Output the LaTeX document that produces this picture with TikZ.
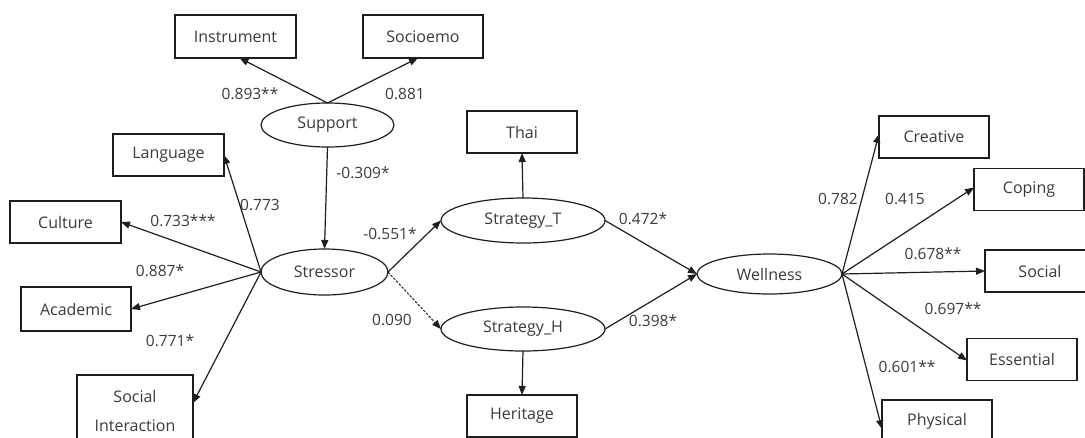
\documentclass[tikz,border=0pt]{standalone}
\usepackage{fontspec}
\setmainfont{Open Sans}
\usetikzlibrary{shapes.geometric,arrows.meta}
\definecolor{txt}{HTML}{3A3A3A}
\definecolor{ln}{HTML}{1E1E1E}
\begin{document}
\begin{tikzpicture}[x=1pt,y=-1pt,
  every node/.style={font=\fontsize{16}{29}\selectfont,text=txt},
  obs/.style={draw=ln,line width=1.2pt,rectangle,inner sep=0pt,outer sep=0pt,minimum width=110pt,minimum height=42pt,align=center},
  lat/.style={draw=ln,line width=1.2pt,ellipse,inner sep=0pt,outer sep=0pt,minimum height=44pt},
  path/.style={draw=ln,line width=1.2pt,-{Triangle[length=9pt,width=7pt]}},
  dpath/.style={path,line width=1pt,dash pattern=on 2.5pt off 1.5pt},
  coef/.style={inner sep=0pt,font=\fontsize{15.5}{17}\selectfont}]
\useasboundingbox (0,0) rectangle (1085,437);
\clip (0,0) rectangle (1085,437);

% indicator boxes
\node[obs,minimum width=121pt,minimum height=43pt] (instr) at (235.5,36.5) {Instrument};
\node[obs,minimum width=120pt,minimum height=43pt] (socemo) at (423,36.5) {Socioemo};
\node[obs,minimum width=111pt] (lang) at (168.5,155) {Language};
\node[obs,minimum width=111pt] (cult) at (65.5,222) {Culture};
\node[obs,minimum height=44pt] (acad) at (76,309) {Academic};
\node[obs,minimum width=116pt,minimum height=72pt] (sint) at (135,411) {Social\\Interaction};
\node[obs] (thai) at (522,132) {Thai};
\node[obs] (herit) at (522,416) {Heritage};
\node[obs] (creat) at (934,137) {Creative};
\node[obs] (coping) at (1029,189.5) {Coping};
\node[obs,minimum height=42pt] (social) at (1040,271) {Social};
\node[obs] (essen) at (1022,359.5) {Essential};
\node[obs] (phys) at (937,421) {Physical};

% latent variables
\node[lat,minimum width=133pt] (sup) at (327.5,125) {Support};
\node[lat,minimum width=127pt,minimum height=46pt] (stress) at (324.5,272) {Stressor};
\node[lat,minimum width=164pt,minimum height=45pt] (stratT) at (523,220.5) {Strategy\_T};
\node[lat,minimum width=164pt] (stratH) at (523,329) {Strategy\_H};
\node[lat,minimum width=145pt,minimum height=40pt] (well) at (769.5,274) {Wellness};

% support loadings
\draw[path] (sup.north) -- ([xshift=4pt]instr.south);
\draw[path] (sup.north) -- ([xshift=-5pt]socemo.south);
\draw[path] (sup.south) -- (stress.north);

% stressor loadings
\draw[path] (stress.west) -- (lang.east);
\draw[path] (stress.west) -- (cult.east);
\draw[path] (stress.west) -- (acad.east);
\draw[path] (stress.west) -- ([yshift=8pt]sint.east);

% structural paths
\draw[path] (stress.east) -- (stratT.west);
\draw[dpath] (stress.east) -- (stratH.west);
\draw[path] (stratT.north) -- (thai.south);
\draw[path] (stratH.south) -- (herit.north);
\draw[path] (stratT.east) -- (well.west);
\draw[path] (stratH.east) -- (well.west);

% wellness loadings
\draw[path] (well.east) -- ([yshift=3pt]creat.west);
\draw[path] (well.east) -- ([yshift=2pt]coping.west);
\draw[path] (well.east) -- (social.west);
\draw[path] (well.east) -- ([yshift=-1pt]essen.west);
\draw[path] (well.east) -- ([yshift=-8pt]phys.west);

% coefficients
\node[coef] (c1) at (250,94) {0.893**};
\node[coef] (c2) at (405,94) {0.881};
\node[coef] (c3) at (363,173) {-0.309*};
\node[coef] (c4) at (260,205) {0.773};
\node[coef] (c5) at (183,221) {0.733***};
\node[coef] (c6) at (160,271) {0.887*};
\node[coef] (c7) at (170,341) {0.771*};
\node[coef] (c8) at (390,234) {-0.551*};
\node[coef] (c9) at (392,320) {0.090};
\node[coef] (c10) at (643,219) {0.472*};
\node[coef] (c11) at (653,321) {0.398*};
\node[coef] (c12) at (838,199) {0.782};
\node[coef] (c13) at (905,199) {0.415};
\node[coef] (c14) at (933,254) {0.678**};
\node[coef] (c15) at (953,309) {0.697**};
\node[coef] (c16) at (907,367) {0.601**};
\end{tikzpicture}
\end{document}
